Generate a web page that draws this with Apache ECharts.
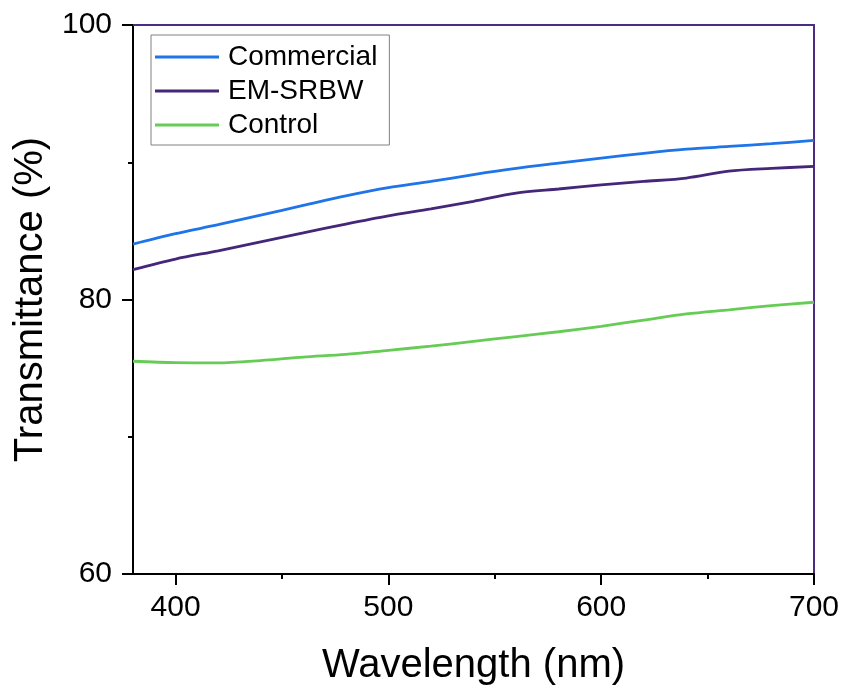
<!DOCTYPE html>
<html>
<head>
<meta charset="utf-8">
<script src="https://cdn.jsdelivr.net/npm/echarts@6/dist/echarts.min.js"></script>
<style>
html,body{margin:0;padding:0;background:#fff;}
#chart{width:846px;height:691px;}
</style>
</head>
<body>
<div id="chart"></div>
<script>
const wavelengths = [380,400,420,440,460,480,500,520,540,560,580,600,620,640,660,680,700];
const commercial = [84.04,84.8,85.45,86.15,86.85,87.55,88.15,88.6,89.1,89.55,89.93,90.3,90.65,90.95,91.15,91.35,91.6];
const emSrbw = [82.17,82.95,83.55,84.2,84.85,85.5,86.1,86.6,87.15,87.75,88.05,88.35,88.6,88.85,89.35,89.55,89.7];
const control = [75.5,75.4,75.38,75.55,75.8,76.0,76.3,76.6,76.95,77.3,77.65,78.05,78.5,78.95,79.25,79.55,79.8];
const xMajorTicks = [400,500,600,700];
const xMinorTicks = [450,550,650];
const seriesNames = ['Commercial','EM-SRBW','Control'];

const FONT = '"Liberation Sans", Arial, sans-serif';
const colors = ['#1E74E8','#45277A','#66CC55'];
const frameColor = '#4B2C82';

const pair = arr => wavelengths.map((w,i)=>[w,arr[i]]);
const allData = [commercial, emSrbw, control];

const chart = echarts.init(document.getElementById('chart'), null, {renderer:'canvas'});
chart.setOption({
  animation:false,
  backgroundColor:'#fff',
  grid:{left:133, right:32, top:25, bottom:117, containLabel:false},
  legend:{
    left:151, top:35, orient:'vertical',
    data:seriesNames.map(n=>({name:n, icon:'rect'})),
    itemWidth:64, itemHeight:3, itemGap:6,
    padding:[8,12,6,4],
    borderColor:'#808080', borderWidth:1,
    textStyle:{fontFamily:FONT, fontSize:28, color:'#000', padding:[0,0,0,4]},
    selectedMode:false
  },
  xAxis:[
    {
      type:'value', min:380, max:700, position:'bottom',
      name:'Wavelength (nm)', nameLocation:'middle', nameGap:72,
      nameTextStyle:{fontFamily:FONT, fontSize:40, color:'#000'},
      axisLine:{show:true, onZero:false, lineStyle:{color:'#000', width:2}},
      axisTick:{show:true, inside:false, length:11, lineStyle:{color:'#000', width:2}, customValues:xMajorTicks},
      axisLabel:{fontFamily:FONT, fontSize:30, color:'#000', margin:19, customValues:xMajorTicks},
      splitLine:{show:false}
    },
    {
      type:'value', min:380, max:700, position:'bottom', gridIndex:0,
      axisLine:{show:false},
      axisTick:{show:true, length:5, lineStyle:{color:'#000', width:2}, customValues:xMinorTicks},
      axisLabel:{show:false},
      splitLine:{show:false}
    },
    {
      type:'value', min:380, max:700, position:'top',
      axisLine:{show:true, onZero:false, lineStyle:{color:frameColor, width:2}},
      axisTick:{show:false}, axisLabel:{show:false}, splitLine:{show:false}
    }
  ],
  yAxis:[
    {
      type:'value', min:60, max:100, interval:20, position:'left',
      name:'Transmittance (%)', nameLocation:'middle', nameGap:77, nameRotate:90,
      nameTextStyle:{fontFamily:FONT, fontSize:40, color:'#000'},
      axisLine:{show:true, onZero:false, lineStyle:{color:'#000', width:2}},
      axisTick:{show:true, length:11, lineStyle:{color:'#000', width:2}},
      minorTick:{show:true, splitNumber:2, length:5, lineStyle:{color:'#000', width:2}},
      axisLabel:{fontFamily:FONT, fontSize:30, color:'#000', margin:21},
      splitLine:{show:false}
    },
    {
      type:'value', min:60, max:100, position:'right',
      axisLine:{show:true, onZero:false, lineStyle:{color:frameColor, width:2}},
      axisTick:{show:false}, axisLabel:{show:false}, splitLine:{show:false}
    }
  ],
  series: seriesNames.map((name,i)=>({
    name:name, type:'line', xAxisIndex:0, yAxisIndex:0,
    data:pair(allData[i]),
    symbol:'none', smooth:0.3,
    lineStyle:{color:colors[i], width:2.8},
    itemStyle:{color:colors[i]},
    z:3
  }))
});
</script>
</body>
</html>
